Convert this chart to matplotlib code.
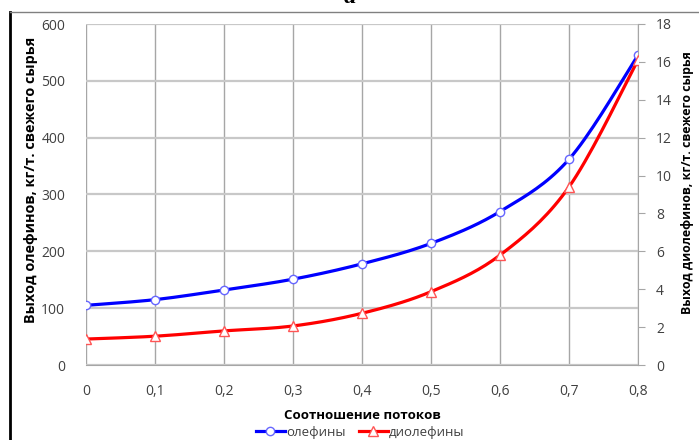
import numpy as np
import matplotlib
matplotlib.use("Agg")
import matplotlib.pyplot as plt
from matplotlib.lines import Line2D

ratio = [0, 0.1, 0.2, 0.3, 0.4, 0.5, 0.6, 0.7, 0.8]
olefins = [105, 115, 132, 151, 178, 214, 270, 362, 545]
diolefins = [1.37, 1.52, 1.8, 2.06, 2.73, 3.87, 5.8, 9.4, 16.1]
xtick_labels = ["0", "0,1", "0,2", "0,3", "0,4", "0,5", "0,6", "0,7", "0,8"]
left_ticks = [0, 100, 200, 300, 400, 500, 600]
right_ticks = [0, 2, 4, 6, 8, 10, 12, 14, 16, 18]

FONT = ["Open Sans", "DejaVu Sans"]
plt.rcParams['font.family'] = FONT


def smooth(x, y, n=20):
    # Excel-style smoothed line (cubic Bezier with Catmull-Rom control points)
    x = np.asarray(x, float); y = np.asarray(y, float)
    px = np.concatenate([[x[0]], x, [x[-1]]])
    py = np.concatenate([[y[0]], y, [y[-1]]])
    xs, ys = [], []
    t = np.linspace(0, 1, n)
    for i in range(1, len(px) - 2):
        p0 = np.array([px[i], py[i]]); p3 = np.array([px[i + 1], py[i + 1]])
        c1 = p0 + (np.array([px[i + 1], py[i + 1]]) - np.array([px[i - 1], py[i - 1]])) / 6
        c2 = p3 - (np.array([px[i + 2], py[i + 2]]) - np.array([px[i], py[i]])) / 6
        b = ((1 - t) ** 3)[:, None] * p0 + (3 * (1 - t) ** 2 * t)[:, None] * c1 + \
            (3 * (1 - t) * t ** 2)[:, None] * c2 + (t ** 3)[:, None] * p3
        xs.extend(b[:, 0]); ys.extend(b[:, 1])
    return xs, ys


fig = plt.figure(figsize=(6.99, 4.40), dpi=100)
ax = fig.add_axes([86 / 699, 75 / 440, 552 / 699, 341 / 440])
ax2 = ax.twinx()

ax.set_xlim(0, 0.8)
ax.set_ylim(0, 600)
ax2.set_ylim(0, 18)
ax.set_xticks(ratio)
ax.set_xticklabels(xtick_labels)
ax.set_yticks(left_ticks)
ax2.set_yticks(right_ticks)

ax.grid(True, axis='x', color='#a6a6a6', lw=1.0)
ax.grid(True, axis='y', color='#c8c8c8', lw=1.6)
ax.set_axisbelow(True)
for s in ['top', 'left']:
    ax.spines[s].set_visible(False)
    ax2.spines[s].set_visible(False)
ax.spines['right'].set_visible(False)
ax.spines['bottom'].set_color('#a6a6a6')
ax2.spines['bottom'].set_visible(False)
ax2.spines['right'].set_color('#a6a6a6')

ax.tick_params(axis='both', length=0, labelsize=10, labelcolor='#404040')
ax.tick_params(axis='x', pad=14)
ax.tick_params(axis='y', pad=15)
ax2.tick_params(axis='y', length=5, color='#a6a6a6', labelsize=10, labelcolor='#404040', pad=8)

blue = '#0000ff'
red = '#ff0000'
sx, sy = smooth(ratio, olefins)
ax.plot(sx, sy, color=blue, lw=2.3, solid_capstyle='round', zorder=3)
ax.plot(ratio, olefins, ls='none', marker='o', ms=6, mfc='white', mec='#6666ff', mew=1.0, zorder=4)
sx2, sy2 = smooth(ratio, diolefins)
ax2.plot(sx2, sy2, color=red, lw=2.3, solid_capstyle='round', zorder=3)
ax2.plot(ratio, diolefins, ls='none', marker='^', ms=7.5, mfc='white', mec='#ff5555', mew=1.0, zorder=4)

ax.set_xlabel("Соотношение потоков", fontsize=9.5, fontweight='bold', labelpad=7)
fig.text(31 / 699, 260 / 440, "Выход олефинов, кг/т. свежего сырья", rotation=90,
         ha='center', va='center', fontsize=10.4, fontweight='bold')
fig.text(688 / 699, 257 / 440, "Выход диолефинов, кг/т. свежего сырья", rotation=90,
         ha='center', va='center', fontsize=8.9, fontweight='bold')

handles = [Line2D([], [], color=blue, lw=2.3, marker='o', ms=6, mfc='white', mec='#6666ff'),
           Line2D([], [], color=red, lw=2.3, marker='^', ms=7.5, mfc='white', mec='#ff5555')]
fig.legend(handles, ["олефины", "диолефины"], loc='center', bbox_to_anchor=(360 / 699, 8 / 440),
           ncol=2, frameon=False, fontsize=9.5, handlelength=2.2, handletextpad=0.1,
           columnspacing=1.0, labelcolor='#404040')

# outer frame and caption letter
fig.add_artist(Line2D([10 / 699, 10 / 699], [0, 428 / 440], color='black', lw=2))
fig.add_artist(Line2D([10 / 699, 1], [428 / 440, 428 / 440], color='#808080', lw=1))
fig.text(350 / 699, 432 / 440, "а", ha='center', va='bottom', fontsize=18,
         family='Liberation Serif', style='italic', fontweight='bold')

fig.savefig("out.png", dpi=100)
